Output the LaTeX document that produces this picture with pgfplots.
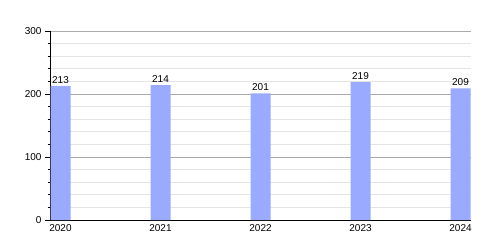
\documentclass[border=0pt]{standalone}
\usepackage{pgfplots}
\pgfplotsset{compat=1.18}
\usepackage{fontspec}
\setmainfont{Liberation Sans}
\definecolor{barc}{RGB}{153,170,255}
\definecolor{majg}{RGB}{170,170,170}
\definecolor{ming}{RGB}{228,228,228}
\begin{document}
\begin{tikzpicture}
\useasboundingbox (0,0) rectangle (500pt,250pt);
\begin{axis}[
  at={(50pt,30pt)}, anchor=south west,
  scale only axis, width=421pt, height=189pt,
  xmin=-0.105, xmax=4.105, ymin=0, ymax=300,
  ytick={0,100,200,300}, minor y tick num=4,
  ymajorgrids, yminorgrids,
  major grid style={majg, line width=0.8pt},
  minor grid style={ming, line width=0.8pt},
  axis x line*=bottom, axis y line*=left,
  axis line style={black, line width=0.8pt},
  tick align=outside,
  major tick length=5pt, minor tick length=2.5pt,
  y tick style={black, line width=0.8pt},
  xtick={0,1,2,3,4},
  xticklabels={2020,2021,2022,2023,2024},
  x tick style={draw=none},
  tick label style={font=\fontsize{10}{12}\selectfont},
  xticklabel style={yshift=4.5pt},
  /pgf/number format/assume math mode=true,
  ybar, bar width=20pt,
  nodes near coords,
  nodes near coords style={font=\fontsize{10}{12}\selectfont, inner sep=2.5pt},
  clip=false,
]
\addplot[fill=barc, draw=none] coordinates {(0,213) (1,214) (2,201) (3,219) (4,209)};
\end{axis}
\end{tikzpicture}
\end{document}
